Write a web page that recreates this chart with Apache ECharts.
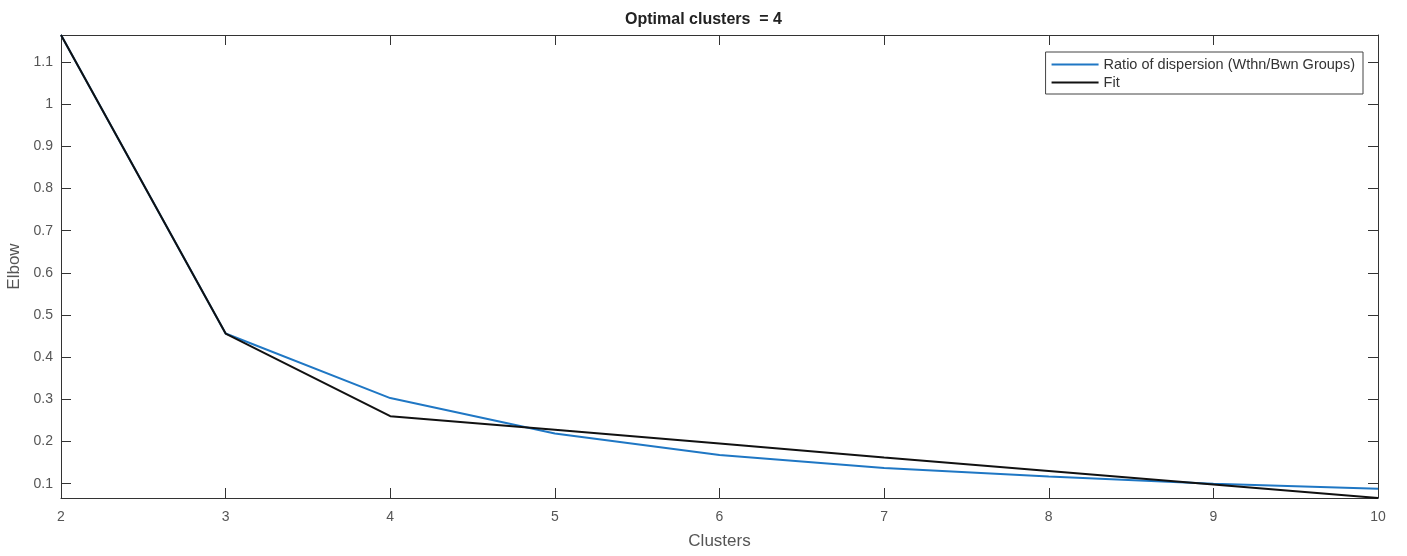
<!DOCTYPE html>
<html>
<head>
<meta charset="utf-8">
<script src="https://cdn.jsdelivr.net/npm/echarts@6/dist/echarts.min.js"></script>
<style>
  html, body { margin: 0; padding: 0; background: #fff; }
  #chart { width: 1407px; height: 556px; }
</style>
</head>
<body>
<div id="chart"></div>
<script>
// clusters on the x axis
const clusters = [2, 3, 4, 5, 6, 7, 8, 9, 10]
// ratio of dispersion (within / between groups)
const ratioValues = [1.164, 0.456, 0.303, 0.219, 0.168, 0.137, 0.117, 0.100, 0.088]
// fitted elbow
const fitValues = [1.164, 0.456, 0.260, 0.228, 0.195, 0.162, 0.130, 0.098, 0.066]
// y tick labels
const yTicks = [0.1, 0.2, 0.3, 0.4, 0.5, 0.6, 0.7, 0.8, 0.9, 1, 1.1]

const axisColor = '#333'
const labelColor = '#555'
const font = 'Liberation Sans'

const chart = echarts.init(document.getElementById('chart'), null, { renderer: 'canvas' })

const pairs = vals => clusters.map((c, i) => [c, vals[i]])

chart.setOption({
  animation: false,
  backgroundColor: '#fff',
  title: {
    text: 'Optimal clusters  = 4',
    left: 'center',
    top: 7,
    textStyle: { fontFamily: font, fontSize: 16, fontWeight: 'bold', color: '#222' }
  },
  legend: {
    orient: 'vertical',
    right: 44,
    top: 52,
    icon: 'rect',
    itemWidth: 47,
    itemHeight: 2,
    itemGap: 3,
    padding: [5, 8, 4, 6],
    borderColor: '#444',
    borderWidth: 1,
    textStyle: { fontFamily: font, fontSize: 14.5, color: '#333' },
    data: ['Ratio of dispersion (Wthn/Bwn Groups)', 'Fit']
  },
  grid: { left: 61, right: 29, top: 35, bottom: 58, containLabel: false, outerBoundsMode: 'none' },
  xAxis: [{
    type: 'value',
    min: 2, max: 10, interval: 1,
    name: 'Clusters',
    nameLocation: 'middle',
    nameGap: 35,
    nameTextStyle: { fontFamily: font, fontSize: 17, color: labelColor },
    axisLine: { lineStyle: { color: axisColor, width: 1 } },
    axisTick: { inside: true, length: 10, lineStyle: { color: axisColor } },
    axisLabel: { fontFamily: font, fontSize: 14, color: labelColor, margin: 12 },
    splitLine: { show: false }
  }, {
    type: 'value', position: 'top',
    min: 2, max: 10, interval: 1,
    axisLine: { show: true, lineStyle: { color: axisColor, width: 1 } },
    axisTick: { inside: true, length: 10, lineStyle: { color: axisColor } },
    axisLabel: { show: false },
    splitLine: { show: false }
  }],
  yAxis: [{
    type: 'value',
    min: 0.066, max: 1.164,
    name: 'Elbow',
    nameLocation: 'middle',
    nameGap: 38,
    nameTextStyle: { fontFamily: font, fontSize: 17, color: labelColor },
    axisLine: { show: true, lineStyle: { color: axisColor, width: 1 } },
    axisTick: { show: true, inside: true, length: 10, customValues: yTicks, lineStyle: { color: axisColor } },
    axisLabel: { fontFamily: font, fontSize: 14, color: labelColor, margin: 8, customValues: yTicks,
      formatter: v => String(Math.round(v * 10) / 10) },
    splitLine: { show: false }
  }, {
    type: 'value', position: 'right',
    min: 0.066, max: 1.164,
    axisLine: { show: true, lineStyle: { color: axisColor, width: 1 } },
    axisTick: { show: true, inside: true, length: 10, customValues: yTicks, lineStyle: { color: axisColor } },
    axisLabel: { show: false, customValues: yTicks },
    splitLine: { show: false }
  }],
  series: [{
    name: 'Ratio of dispersion (Wthn/Bwn Groups)',
    type: 'line',
    symbol: 'none',
    data: pairs(ratioValues),
    lineStyle: { color: '#1f77c4', width: 2 },
    itemStyle: { color: '#1f77c4' }
  }, {
    name: 'Fit',
    type: 'line',
    symbol: 'none',
    data: pairs(fitValues),
    lineStyle: { color: '#111', width: 2 },
    itemStyle: { color: '#111' }
  }]
})
</script>
</body>
</html>
